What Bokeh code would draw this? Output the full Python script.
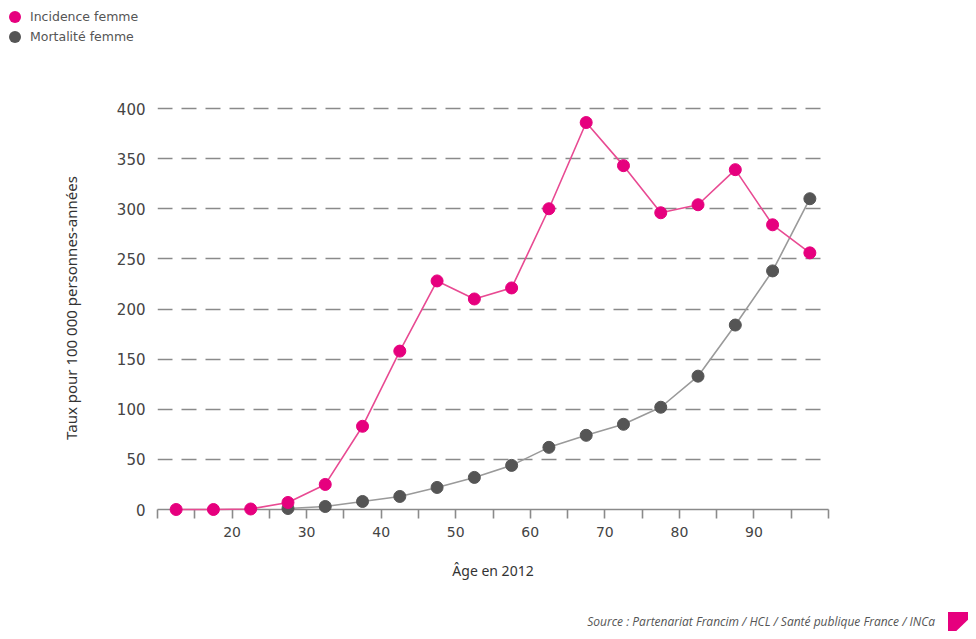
from bokeh.plotting import figure
from bokeh.layouts import column
from bokeh.models import Range1d, FixedTicker, ColumnDataSource, Div
from bokeh.embed import file_html
from bokeh.resources import INLINE

# ---- data ----
ages = [12.5, 17.5, 22.5, 27.5, 32.5, 37.5, 42.5, 47.5, 52.5, 57.5,
        62.5, 67.5, 72.5, 77.5, 82.5, 87.5, 92.5, 97.5]
incidence = [0, 0, 0.5, 7, 25, 83, 158, 228, 210, 221,
             300, 386, 343, 296, 304, 339, 284, 256]
mort_ages = [27.5, 32.5, 37.5, 42.5, 47.5, 52.5, 57.5,
             62.5, 67.5, 72.5, 77.5, 82.5, 87.5, 92.5, 97.5]
mortality = [1, 3, 8, 13, 22, 32, 44, 62, 74, 85, 102, 133, 184, 238, 310]
x_ticks = [10, 15, 20, 25, 30, 35, 40, 45, 50, 55, 60, 65, 70, 75, 80, 85, 90, 95, 100]
x_labelled = [20, 30, 40, 50, 60, 70, 80, 90]
y_ticks = [0, 50, 100, 150, 200, 250, 300, 350, 400]
series_names = ["Incidence femme", "Mortalité femme"]
x_title = "Âge en 2012"
y_title = "Taux pour 100 000 personnes-années"
source_text = "Source : Partenariat Francim / HCL / Santé publique France / INCa"

PINK = "#E6007E"
PINK_LINE = "#E84A92"
DARK = "#555555"
GREY_LINE = "#9A9A9A"
FONT = "DejaVu Sans"
series_colors = [PINK, DARK]
W = 968

# ---- legend strip (HTML) ----
legend_rows = "".join(
    "<div style='display:flex;align-items:center;height:20px;'>"
    f"<span style='display:inline-block;width:12px;height:12px;border-radius:50%;"
    f"background:{c};margin-left:9px;margin-right:9px;'></span>"
    f"<span>{name}</span></div>"
    for name, c in zip(series_names, series_colors))
legend_div = Div(text=f"<div style='padding-top:7px;'>{legend_rows}</div>",
                 width=W, height=56, margin=0,
                 styles={"font-family": FONT, "font-size": "12.5px",
                         "color": "#555555", "overflow": "hidden"})

# ---- main chart ----
p = figure(width=W, height=556, output_backend="svg", toolbar_location=None,
           x_range=Range1d(10, 100), y_range=Range1d(0, 402),
           min_border_left=157, min_border_right=140,
           min_border_top=50, min_border_bottom=103)
p.outline_line_color = None
p.background_fill_color = "white"
p.border_fill_color = "white"

inc_src = ColumnDataSource(dict(x=ages, y=incidence))
mor_src = ColumnDataSource(dict(x=mort_ages, y=mortality))

l_mor = p.line("x", "y", source=mor_src, line_color=GREY_LINE, line_width=1.6)
s_mor = p.scatter("x", "y", source=mor_src, size=12, fill_color=DARK, line_color=DARK)
l_inc = p.line("x", "y", source=inc_src, line_color=PINK_LINE, line_width=1.6)
s_inc = p.scatter("x", "y", source=inc_src, size=12, fill_color=PINK, line_color=PINK)
for r in (l_mor, s_mor, l_inc, s_inc):
    r.level = "overlay"

xa = p.xaxis[0]
xa.ticker = FixedTicker(ticks=x_ticks, minor_ticks=[])
xa.major_label_overrides = {t: (str(t) if t in x_labelled else "") for t in x_ticks}
xa.axis_line_color = "#8a8a8a"
xa.axis_line_width = 1.6
xa.major_tick_line_color = "#8a8a8a"
xa.major_tick_line_width = 1.6
xa.major_tick_out = 9
xa.major_tick_in = 0
xa.minor_tick_line_color = None
xa.major_label_standoff = 8
xa.major_label_text_font = FONT
xa.major_label_text_font_size = "14px"
xa.major_label_text_color = "#444444"
xa.axis_label = x_title
xa.axis_label_text_font = "Noto Sans"
xa.axis_label_text_font_size = "14px"
xa.axis_label_text_font_style = "normal"
xa.axis_label_text_color = "#333333"
xa.axis_label_standoff = 21

ya = p.yaxis[0]
ya.ticker = FixedTicker(ticks=y_ticks, minor_ticks=[])
ya.axis_line_color = None
ya.major_tick_line_color = None
ya.minor_tick_line_color = None
ya.major_tick_out = 0
ya.major_tick_in = 0
ya.major_label_standoff = 12
ya.major_label_text_font = FONT
ya.major_label_text_font_size = "15px"
ya.major_label_text_color = "#444444"
ya.axis_label = y_title
ya.axis_label_text_font = "Noto Sans"
ya.axis_label_text_font_size = "15px"
ya.axis_label_text_font_style = "normal"
ya.axis_label_text_color = "#333333"
ya.axis_label_standoff = 33

p.xgrid.visible = False
p.ygrid.ticker = FixedTicker(ticks=y_ticks[1:])
p.ygrid.grid_line_color = "#8a8a8a"
p.ygrid.grid_line_width = 1.6
p.ygrid.grid_line_dash = "15 9"

# ---- source strip (HTML) ----
source_html = (
    f"<div style='position:relative;width:{W}px;height:19px;overflow:hidden;'>"
    "<span style='position:absolute;right:33px;top:1px;white-space:nowrap;"
    "font-family:\"Open Sans\";font-style:italic;font-size:12px;color:#555555;'>"
    f"{source_text}</span>"
    "<div style='position:absolute;left:948px;top:0px;width:0;height:0;"
    f"border-top:27px solid {PINK};border-right:28px solid transparent;'></div>"
    "</div>")
source_div = Div(text=source_html, width=W, height=19, margin=0,
                 styles={"overflow": "hidden"})

layout = column(legend_div, p, source_div, spacing=0)
open("out.html", "w").write(file_html(layout, INLINE))
